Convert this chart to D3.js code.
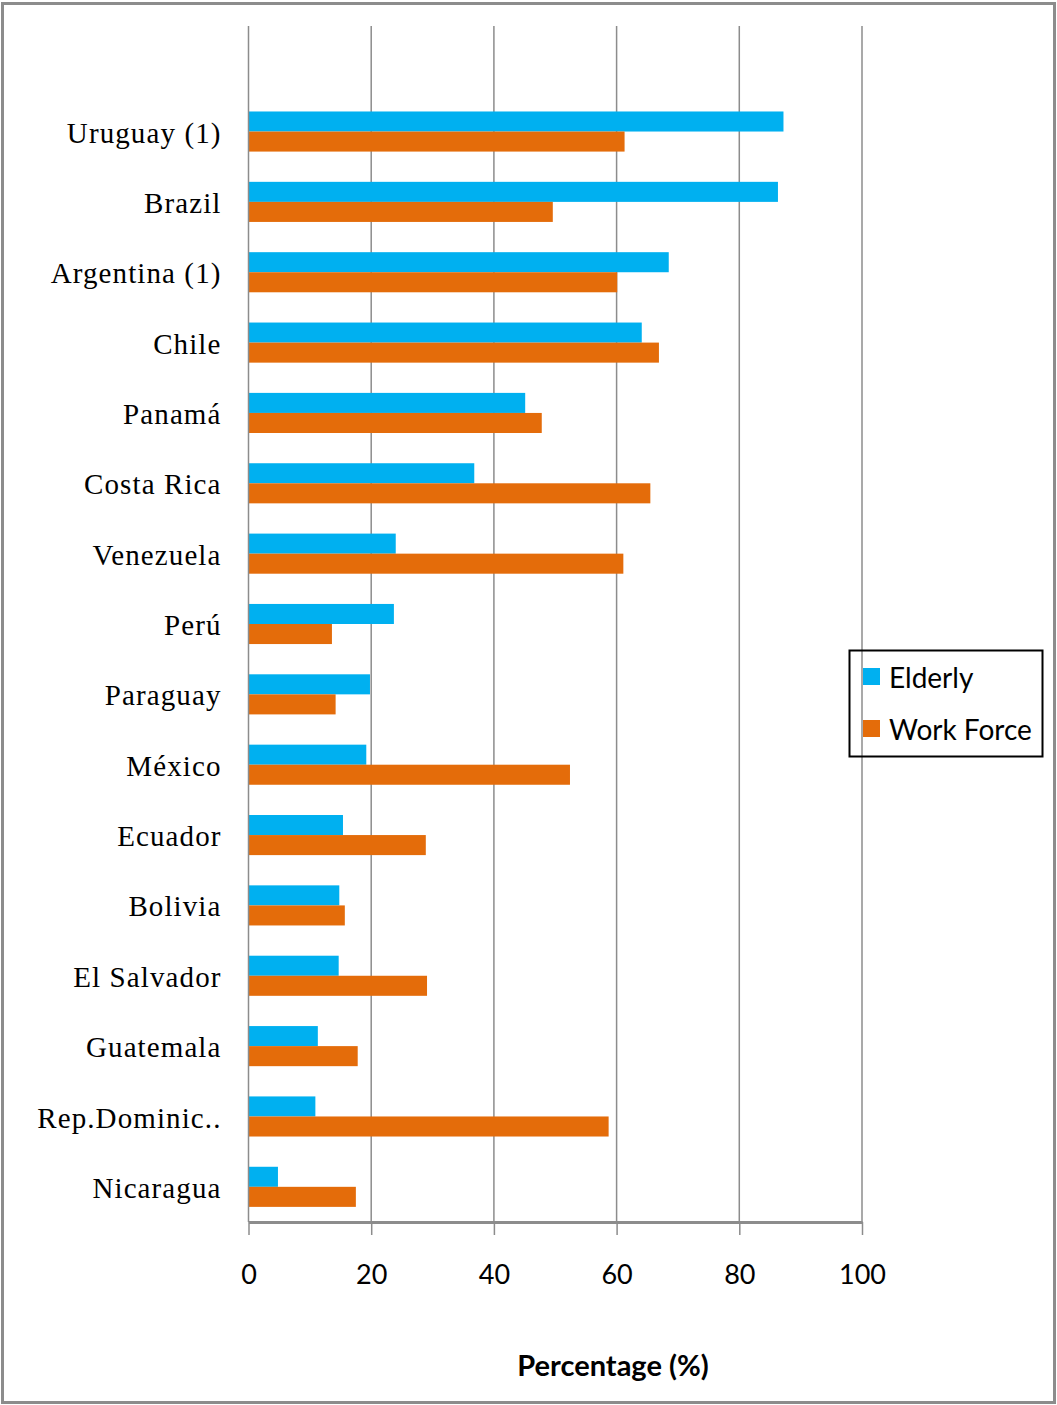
<!DOCTYPE html>
<html>
<head>
<meta charset="utf-8">
<script src="https://cdn.jsdelivr.net/npm/d3@7"></script>
<style>
  html, body { margin: 0; padding: 0; background: #fff; }
  svg { display: block; }
</style>
</head>
<body>
<svg id="chart" width="1057" height="1405"></svg>
<script>
// Countries, top to bottom
const countries = [
  "Uruguay (1)", "Brazil", "Argentina (1)", "Chile", "Panamá", "Costa Rica",
  "Venezuela", "Perú", "Paraguay", "México", "Ecuador", "Bolivia",
  "El Salvador", "Guatemala", "Rep.Dominic..", "Nicaragua"
];
// Coverage of the elderly (%)
const elderly = [87.2, 86.3, 68.5, 64.1, 45.1, 36.8, 24.0, 23.7, 19.8, 19.2, 15.4, 14.8, 14.7, 11.3, 10.9, 4.8];
// Coverage of the work force (%)
const workForce = [61.3, 49.6, 60.1, 66.9, 47.8, 65.5, 61.1, 13.6, 14.2, 52.4, 28.9, 15.7, 29.1, 17.8, 58.7, 17.5];
const seriesNames = ["Elderly", "Work Force"];
const seriesColors = ["#00b0f0", "#e46c0a"];
const xTicks = [0, 20, 40, 60, 80, 100];

const svg = d3.select("#chart");
const W = 1057, H = 1405;

// outer frame
svg.append("rect")
  .attr("x", 2.5).attr("y", 3.5).attr("width", W - 5).attr("height", H - 6)
  .attr("fill", "#fff").attr("stroke", "#8c8c8c").attr("stroke-width", 3);

const plot = { left: 248.5, right: 862, top: 26, bottom: 1222 };
const step = (plot.bottom - plot.top) / (countries.length + 1);

const x = d3.scaleLinear().domain([0, 100]).range([plot.left, plot.right]);
const y = d3.scaleBand().domain(countries)
  .range([plot.top + step, plot.bottom])
  .paddingInner(0.43).paddingOuter(0.215);
const sub = d3.scaleBand().domain(seriesNames).range([0, y.bandwidth()]);

// vertical gridlines
svg.append("g").selectAll("line")
  .data(xTicks.filter(d => d > 0))
  .join("line")
  .attr("x1", d => x(d)).attr("x2", d => x(d))
  .attr("y1", plot.top).attr("y2", plot.bottom)
  .attr("stroke", "#8c8c8c").attr("stroke-width", 1.5);

// bars
const rows = countries.map((c, i) => ({ c, vals: [elderly[i], workForce[i]] }));
const groups = svg.append("g").selectAll("g")
  .data(rows).join("g")
  .attr("transform", d => `translate(0,${y(d.c)})`);
groups.selectAll("rect")
  .data(d => d.vals.map((v, k) => ({ v, k })))
  .join("rect")
  .attr("x", x(0))
  .attr("y", d => sub(seriesNames[d.k]))
  .attr("width", d => x(d.v) - x(0))
  .attr("height", sub.bandwidth())
  .attr("fill", d => seriesColors[d.k]);

// value axis along the bottom
const xAxis = svg.append("g")
  .attr("transform", `translate(0,${plot.bottom})`)
  .call(d3.axisBottom(x).tickValues(xTicks).tickSize(13).tickPadding(30).tickSizeOuter(0));
xAxis.select(".domain").attr("stroke", "#8c8c8c").attr("stroke-width", 3);
xAxis.selectAll(".tick line").attr("stroke", "#8c8c8c").attr("stroke-width", 1.5);
xAxis.selectAll(".tick text")
  .attr("font-family", "Lato, 'Open Sans', sans-serif")
  .attr("font-size", 27).attr("fill", "#000");

// category axis
const yAxis = svg.append("g")
  .attr("transform", `translate(${plot.left},0)`)
  .call(d3.axisLeft(y).tickSize(0).tickPadding(27));
yAxis.select(".domain").attr("stroke", "#8c8c8c").attr("stroke-width", 1.5)
  .attr("d", `M0,${plot.top}V${plot.bottom}`);
yAxis.selectAll(".tick text")
  .attr("font-family", "'Liberation Serif', 'Times New Roman', serif")
  .attr("font-size", 29).attr("fill", "#000")
  .attr("letter-spacing", 1.1)
  .attr("dy", "0.38em");

// axis title
svg.append("text")
  .attr("x", 613).attr("y", 1376)
  .attr("text-anchor", "middle")
  .attr("font-family", "Lato, 'Open Sans', sans-serif")
  .attr("font-weight", "bold").attr("font-size", 29)
  .text("Percentage (%)");

// legend
const lg = svg.append("g");
lg.append("rect")
  .attr("x", 849.5).attr("y", 650.5).attr("width", 193).attr("height", 106)
  .attr("fill", "none").attr("stroke", "#000").attr("stroke-width", 2);
seriesNames.forEach((name, i) => {
  const yy = 668 + i * 52;
  lg.append("rect").attr("x", 863).attr("y", yy).attr("width", 17).attr("height", 17)
    .attr("fill", seriesColors[i]);
  lg.append("text").attr("x", 889).attr("y", yy + 20)
    .attr("font-family", "Lato, 'Open Sans', sans-serif")
    .attr("font-size", 28).attr("fill", "#000")
    .text(name);
});
</script>
</body>
</html>
